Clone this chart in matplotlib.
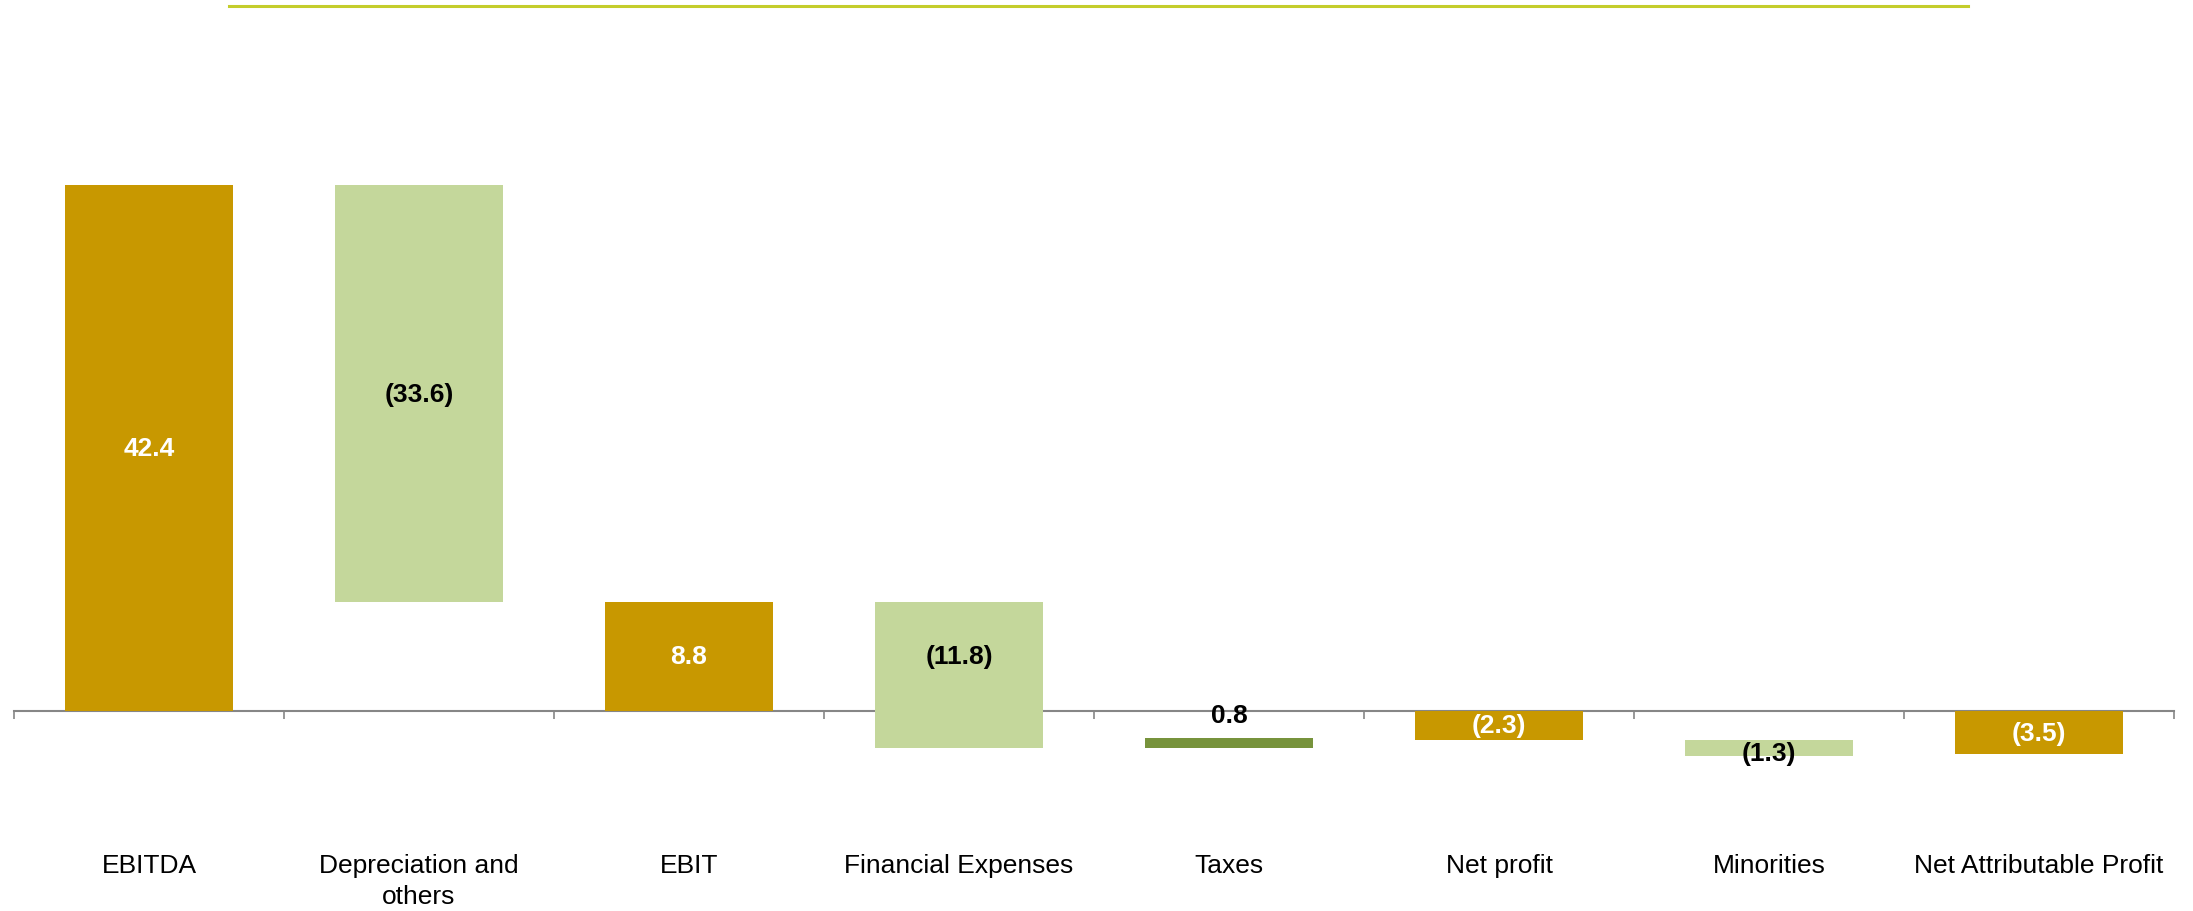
import matplotlib
matplotlib.use('Agg')
import matplotlib.pyplot as plt
from matplotlib.lines import Line2D

# data
categories = ['EBITDA', 'Depreciation and\nothers', 'EBIT', 'Financial Expenses',
              'Taxes', 'Net profit', 'Minorities', 'Net Attributable Profit']
values = [42.4, -33.6, 8.8, -11.8, 0.8, -2.3, -1.3, -3.5]
is_total = [True, False, True, False, False, True, False, True]
labels = ['42.4', '(33.6)', '8.8', '(11.8)', '0.8', '(2.3)', '(1.3)', '(3.5)']

GOLD = '#C89800'
LIGHT = '#C4D79B'
DARK = '#77933C'

fig = plt.figure(figsize=(21.93, 9.12), dpi=100)
ax = fig.add_axes([14 / 2193, (912 - 774) / 912, 2160 / 2193, 620 / 912])

# waterfall: totals start at zero, steps start at the running level
level = 0.0
bottoms, tops = [], []
for v, tot in zip(values, is_total):
    if tot:
        b, t = 0.0, v
        level = v
    else:
        b, t = level, level + v
        level = level + v
    bottoms.append(b)
    tops.append(t)

colors = []
for v, tot in zip(values, is_total):
    if tot:
        colors.append(GOLD)
    elif v > 0:
        colors.append(DARK)
    else:
        colors.append(LIGHT)

x = list(range(len(categories)))
heights = [t - b for b, t in zip(bottoms, tops)]
ax.bar(x, heights, bottom=bottoms, width=0.62, color=colors, zorder=2)

# value labels, centred on the visible part above zero when a bar crosses it
for i, (b, t) in enumerate(zip(bottoms, tops)):
    lo, hi = min(b, t), max(b, t)
    if lo < 0 < hi:
        y = hi / 2
    else:
        y = (lo + hi) / 2
    if i == 4:
        y = -0.3      # Taxes label sits on the axis
    if i == 6:
        y = -3.4
    col = 'white' if colors[i] == GOLD else 'black'
    ax.text(i, y, labels[i], ha='center', va='center', fontsize=19,
            fontweight='bold', color=col, zorder=3,
            family=['Liberation Sans Narrow', 'Liberation Sans', 'DejaVu Sans'])

ax.set_xlim(-0.5, len(categories) - 0.5)
ax.set_ylim(-5, 45)

for s in ['top', 'right', 'left']:
    ax.spines[s].set_visible(False)
ax.spines['bottom'].set_position(('data', 0))
ax.spines['bottom'].set_color('#868686')
ax.spines['bottom'].set_linewidth(1.5)
ax.spines['bottom'].set_zorder(1)
ax.set_yticks([])

ax.set_xticks([i - 0.5 for i in range(len(categories) + 1)])
ax.set_xticklabels([])
ax.tick_params(axis='x', which='major', direction='out', length=6, width=1.2, color='#868686')
ax.set_xticks(x, minor=True)
ax.set_xticklabels(categories, minor=True, fontsize=19, family='Liberation Sans',
                   linespacing=1.4, va='top')
ax.tick_params(axis='x', which='minor', length=0, pad=102)

# thin accent line along the top
fig.add_artist(Line2D([229 / 2193, 1968 / 2193], [(912 - 7) / 912] * 2,
                      color='#C4CD2C', linewidth=2.2, transform=fig.transFigure))

fig.savefig('out.png', dpi=100, facecolor='white')
